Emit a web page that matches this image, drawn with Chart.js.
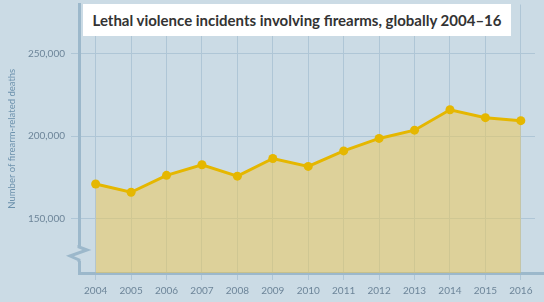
<!DOCTYPE html>
<html>
<head>
<meta charset="utf-8">
<script src="https://cdn.jsdelivr.net/npm/chart.js@4"></script>
<style>
  html, body { margin: 0; padding: 0; background: #cbdbe5; }
  #wrap { position: relative; width: 544px; height: 302px; }
  #title {
    position: absolute; left: 83px; top: 4px; width: 428px; height: 32px;
    background: #fff; color: #333; font: bold 15px Lato, sans-serif;
    line-height: 32px; text-align: center; white-space: nowrap;
  }
</style>
</head>
<body>
<div id="wrap">
  <canvas id="myChart" width="544" height="302"></canvas>
  <div id="title">Lethal violence incidents involving firearms, globally 2004–16</div>
</div>
<script>
// données
const years = [2004, 2005, 2006, 2007, 2008, 2009, 2010, 2011, 2012, 2013, 2014, 2015, 2016];
const deaths = [171000, 166000, 176300, 182700, 175800, 186500, 181700, 191100, 198700, 203700, 216100, 211300, 209500];
const yTicks = [150000, 200000, 250000];

const bg = '#cbdbe5';
const gridColor = '#afc6d6';
const axisColor = '#9cb8cb';
const tickColor = '#6d8599';

// zigzag sur l'axe Y + prolongement de l'axe X
const axisExtras = {
  id: 'axisExtras',
  afterDraw(chart) {
    const c = chart.ctx;
    const a = chart.chartArea;
    c.save();
    c.strokeStyle = axisColor;
    c.lineWidth = 3;
    c.beginPath();
    c.moveTo(a.right, a.bottom + 0.5);
    c.lineTo(chart.width, a.bottom + 0.5);
    c.stroke();
    c.fillStyle = bg;
    c.fillRect(a.left - 3, 246, 6, 15);
    c.lineJoin = 'miter';
    c.beginPath();
    c.moveTo(a.left, 245);
    c.lineTo(a.left, 247);
    c.lineTo(a.left + 8, 250);
    c.lineTo(a.left - 9, 256);
    c.lineTo(a.left, 260);
    c.lineTo(a.left, 262);
    c.stroke();
    c.restore();
  }
};

const ctx = document.getElementById('myChart').getContext('2d');
const myChart = new Chart(ctx, {
  type: 'line',
  data: {
    datasets: [{
      data: years.map((y, i) => ({ x: y, y: deaths[i] })),
      borderColor: '#e5b700',
      borderWidth: 3,
      backgroundColor: 'rgba(239, 199, 79, 0.5)',
      fill: 'start',
      pointRadius: 4.5,
      pointBackgroundColor: '#e5b700',
      pointBorderWidth: 0,
      tension: 0
    }]
  },
  options: {
    responsive: false,
    animation: false,
    layout: { padding: { top: 3, right: 9, left: 0, bottom: 0 } },
    plugins: { legend: { display: false }, tooltip: { enabled: false } },
    scales: {
      x: {
        type: 'linear',
        min: 2003.53,
        max: 2016.4,
        afterBuildTicks: s => { s.ticks = years.map(v => ({ value: v })); },
        afterFit: s => { s.height = 29; s.paddingLeft = 0; s.paddingRight = 0; },
        grid: { color: gridColor, lineWidth: 1, tickLength: 7 },
        border: { color: axisColor, width: 3 },
        ticks: {
          padding: 5,
          color: tickColor,
          font: { family: 'Lato', size: 10 },
          maxRotation: 0,
          callback: v => String(v)
        }
      },
      y: {
        min: 117000,
        max: 280000,
        afterBuildTicks: s => { s.ticks = yTicks.map(v => ({ value: v })); },
        afterFit: s => { s.width = 79; s.paddingTop = 0; s.paddingBottom = 0; },
        grid: { color: gridColor, lineWidth: 1, tickLength: 8 },
        border: { color: axisColor, width: 3 },
        ticks: {
          padding: 6,
          color: tickColor,
          font: { family: 'Lato', size: 10 },
          callback: v => v.toLocaleString('en-US')
        },
        title: {
          display: true,
          text: 'Number of firearm-related deaths',
          color: '#6d92ad',
          font: { family: 'Lato', size: 9.5 },
          padding: { top: 6, bottom: 0 }
        }
      }
    }
  },
  plugins: [axisExtras]
});
</script>
</body>
</html>
